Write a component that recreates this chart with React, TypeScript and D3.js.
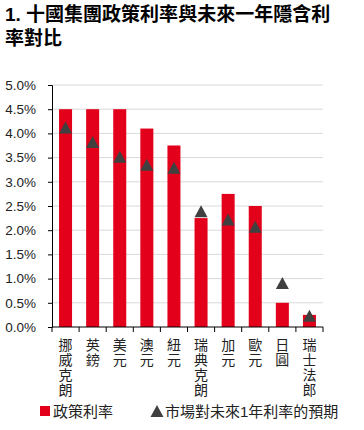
import React, { useEffect, useRef } from 'react';
import * as d3 from 'd3';

const categories = ['挪威克朗', '英鎊', '美元', '澳元', '紐元', '瑞典克朗', '加元', '歐元', '日圓', '瑞士法郎'];
const policyRate = [4.5, 4.5, 4.5, 4.1, 3.75, 2.25, 2.75, 2.5, 0.5, 0.25];
const expectedRate = [4.12, 3.82, 3.52, 3.35, 3.29, 2.39, 2.22, 2.07, 0.91, 0.23];
const yTicks = [0, 0.5, 1, 1.5, 2, 2.5, 3, 3.5, 4, 4.5, 5];
const titleLines = ['1. 十國集團政策利率與未來一年隱含利', '率對比'];
const legendLabels = ['政策利率', '市場對未來1年利率的預期'];

const FONT = '"Liberation Sans", Arial, "Noto Sans CJK TC", sans-serif';
const RED = '#e2001a';
const GREY = '#404040';

const App = () => {
  const svgRef = useRef(null);

  useEffect(() => {
    const svg = d3.select(svgRef.current);
    svg.selectAll('*').remove();

    const margin = { top: 85, right: 41, bottom: 103, left: 52 };
    const width = 364;
    const height = 430;

    const x = d3
      .scaleBand()
      .domain(categories)
      .range([margin.left, width - margin.right])
      .paddingInner(0.52)
      .paddingOuter(0.26);

    const y = d3.scaleLinear().domain([0, 5]).range([height - margin.bottom, margin.top]);

    // title
    svg
      .selectAll('text.title')
      .data(titleLines)
      .enter()
      .append('text')
      .attr('class', 'title')
      .attr('x', 5)
      .attr('y', (d, i) => 21 + i * 24)
      .attr('font-size', 19)
      .attr('font-weight', 'bold')
      .attr('fill', '#000')
      .style('font-family', FONT)
      .text((d) => d);

    // grid
    svg
      .append('g')
      .selectAll('line')
      .data(yTicks.slice(1))
      .enter()
      .append('line')
      .attr('x1', margin.left)
      .attr('x2', width - margin.right)
      .attr('y1', (d) => y(d))
      .attr('y2', (d) => y(d))
      .attr('stroke', '#d9d9d9')
      .attr('stroke-width', 1);

    // y axis
    const yAxis = svg
      .append('g')
      .attr('transform', `translate(${margin.left},0)`)
      .call(
        d3
          .axisLeft(y)
          .tickValues(yTicks)
          .tickFormat((d) => d3.format('.1f')(d) + '%')
          .tickSize(4)
          .tickPadding(12)
      );
    yAxis.select('.domain').attr('stroke', '#000');
    yAxis.selectAll('.tick line').attr('stroke', '#000');
    yAxis
      .selectAll('.tick text')
      .attr('font-size', 13.5)
      .attr('fill', '#222')
      .style('font-family', FONT);

    // bars
    svg
      .append('g')
      .selectAll('rect')
      .data(policyRate)
      .enter()
      .append('rect')
      .attr('x', (d, i) => x(categories[i]))
      .attr('y', (d) => y(d))
      .attr('width', x.bandwidth())
      .attr('height', (d) => y(0) - y(d))
      .attr('fill', RED);

    // triangles
    const tri = 'M0,-6L6.5,6L-6.5,6Z';
    svg
      .append('g')
      .selectAll('path')
      .data(expectedRate)
      .enter()
      .append('path')
      .attr('d', tri)
      .attr('transform', (d, i) => `translate(${x(categories[i]) + x.bandwidth() / 2},${y(d)})`)
      .attr('fill', GREY);

    // x axis
    const step = x.step();
    const x0 = margin.left;
    const xAxis = svg.append('g');
    xAxis
      .append('line')
      .attr('x1', margin.left)
      .attr('x2', width - margin.right)
      .attr('y1', y(0))
      .attr('y2', y(0))
      .attr('stroke', '#000');
    xAxis
      .selectAll('line.tick')
      .data(d3.range(categories.length + 1))
      .enter()
      .append('line')
      .attr('class', 'tick')
      .attr('x1', (d) => x0 + d * step)
      .attr('x2', (d) => x0 + d * step)
      .attr('y1', y(0))
      .attr('y2', y(0) + 5)
      .attr('stroke', '#000');

    // vertical category labels, one character per line
    const labels = xAxis
      .selectAll('text.cat')
      .data(categories)
      .enter()
      .append('text')
      .attr('class', 'cat')
      .attr('text-anchor', 'middle')
      .attr('font-size', 14)
      .attr('fill', '#222')
      .style('font-family', FONT);
    labels
      .selectAll('tspan')
      .data((d) => d.split('').map((c) => ({ c, cat: d })))
      .enter()
      .append('tspan')
      .attr('x', (d) => x(d.cat) + x.bandwidth() / 2)
      .attr('y', (d, i) => y(0) + 22.5 + i * 15.2)
      .text((d) => d.c);

    // legend
    const legend = svg.append('g').attr('transform', `translate(0,${height - 13})`);
    legend
      .append('rect')
      .attr('x', 40)
      .attr('y', -11)
      .attr('width', 10)
      .attr('height', 10)
      .attr('fill', RED);
    legend
      .append('text')
      .attr('x', 53)
      .attr('y', 0)
      .attr('font-size', 15)
      .attr('fill', '#222')
      .style('font-family', FONT)
      .text(legendLabels[0]);
    legend
      .append('path')
      .attr('d', tri)
      .attr('transform', 'translate(157,-6)')
      .attr('fill', GREY);
    legend
      .append('text')
      .attr('x', 165)
      .attr('y', 0)
      .attr('font-size', 15)
      .attr('fill', '#222')
      .style('font-family', FONT)
      .text(legendLabels[1]);
  }, []);

  return (
    <svg
      ref={svgRef}
      width={364}
      height={430}
      style={{ position: 'absolute', left: 0, top: 0, background: '#fff' }}
    ></svg>
  );
};

export default App;
